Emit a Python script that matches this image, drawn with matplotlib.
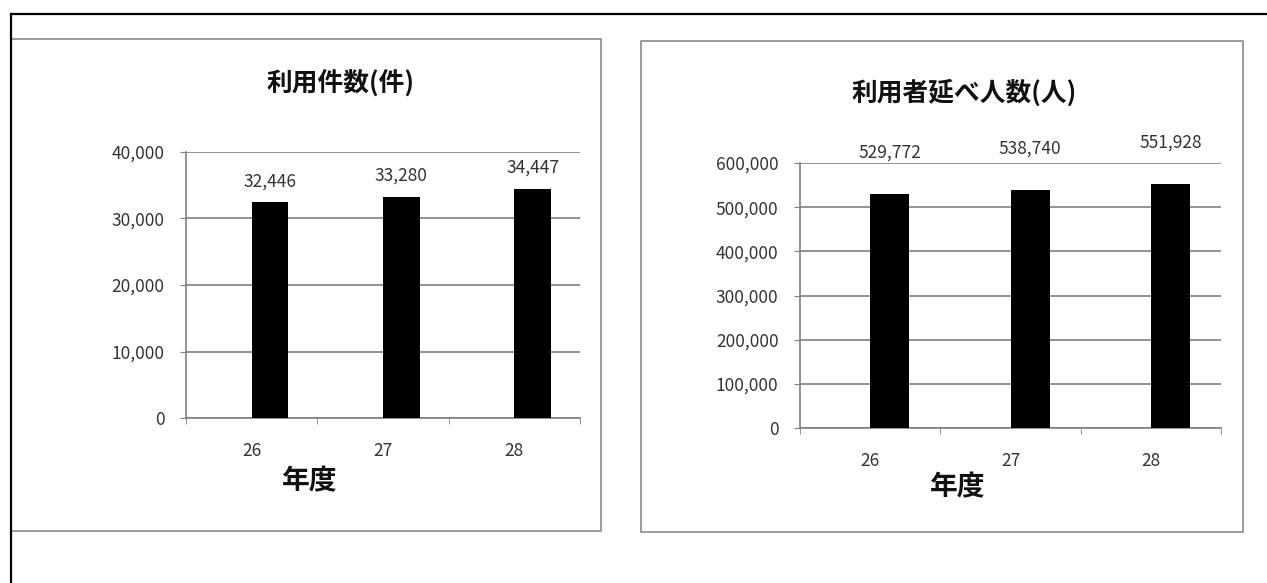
import matplotlib
matplotlib.use("Agg")
import matplotlib.pyplot as plt
from matplotlib.patches import Rectangle
from matplotlib.lines import Line2D
from matplotlib.ticker import FuncFormatter, FixedLocator
import numpy as np

plt.rcParams["font.family"] = ["Noto Sans CJK JP", "DejaVu Sans"]

# データ
years = ["26", "27", "28"]
cases = [32446, 33280, 34447]          # 利用件数(件)
visitors = [529772, 538740, 551928]    # 利用者延べ人数(人)

W, H = 1267, 583
GRID = "#808080"
TXT = "#333333"

fig = plt.figure(figsize=(W / 100, H / 100), dpi=100)
fig.patch.set_facecolor("white")


def fx(x):
    return x / W


def fy(y):
    return 1 - y / H


def frame_box(x0, y0, x1, y1, color, lw):
    fig.add_artist(Rectangle((fx(x0), fy(y1)), fx(x1) - fx(x0), fy(y0) - fy(y1),
                             transform=fig.transFigure, fill=False,
                             edgecolor=color, linewidth=lw, zorder=0))


# 外枠 (左と上のみ)
fig.add_artist(Line2D([fx(11), fx(11)], [fy(14), 0], transform=fig.transFigure,
                      color="black", lw=1.6))
fig.add_artist(Line2D([fx(11), 1], [fy(14), fy(14)], transform=fig.transFigure,
                      color="black", lw=1.6))

# パネル枠
frame_box(11, 39, 601, 531, "#8a8a8a", 1.2)
frame_box(641, 41, 1243, 532, "#8a8a8a", 1.2)


def bar_panel(rect, values, ymax, ystep, title, title_xy, xlabel_xy, label_off):
    ax = fig.add_axes(rect)
    idx = np.arange(len(years))
    ax.bar(idx, values, width=0.28, align="edge", color="black", zorder=3)
    ax.set_xlim(-0.5, len(years) - 0.5)
    ax.set_ylim(0, ymax)
    ax.set_yticks(np.arange(0, ymax + 1, ystep))
    ax.yaxis.set_major_formatter(FuncFormatter(lambda v, p: f"{int(v):,}"))
    ax.grid(axis="y", color=GRID, lw=1.2, zorder=1)
    ax.set_axisbelow(True)
    for s in ["top", "right"]:
        ax.spines[s].set_visible(False)
    for s in ["left", "bottom"]:
        ax.spines[s].set_color(GRID)
        ax.spines[s].set_linewidth(1.2)
    ax.set_xticks(idx)
    ax.set_xticklabels(years)
    ax.xaxis.set_minor_locator(FixedLocator(np.arange(-0.5, len(years), 1.0)))
    ax.tick_params(axis="x", which="major", length=0, pad=17, labelsize=12.5,
                   labelcolor=TXT)
    ax.tick_params(axis="x", which="minor", length=4, color=GRID, direction="out")
    ax.tick_params(axis="y", length=4.5, color=GRID, pad=11, labelsize=12.5,
                   labelcolor=TXT)
    for i, v in enumerate(values):
        ax.annotate(f"{v:,}", xy=(i + 0.14, v), xytext=(0, label_off),
                    textcoords="offset points", ha="center", va="center",
                    fontsize=12.5, color=TXT, annotation_clip=False)
    fig.text(fx(title_xy[0]), fy(title_xy[1]), title, ha="center", va="center",
             fontsize=18.5, fontweight="bold", color="#111111")
    fig.text(fx(xlabel_xy[0]), fy(xlabel_xy[1]), "年度", ha="center", va="center",
             fontsize=20, fontweight="bold", color="#111111")
    return ax


bar_panel([fx(186), fy(418), fx(580) - fx(186), fy(152) - fy(418)],
          cases, 40000, 10000, "利用件数(件)", (340, 84), (310, 481), 15)
bar_panel([fx(800), fy(428), fx(1221) - fx(800), fy(163) - fy(428)],
          visitors, 600000, 100000, "利用者延べ人数(人)", (964, 93), (958, 487), 30)

fig.savefig("out.png", dpi=100, facecolor="white")
